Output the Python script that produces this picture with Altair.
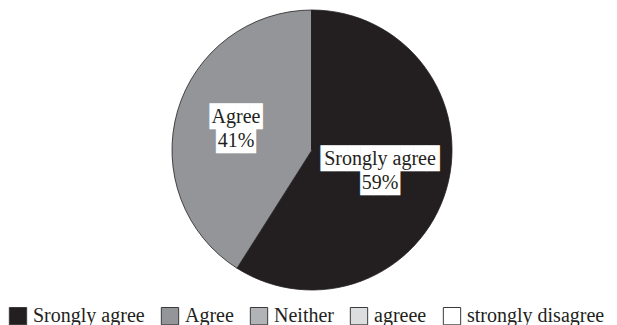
import altair as alt
import pandas as pd

categories = ["Srongly agree", "Agree", "Neither", "agreee", "strongly disagree"]
values = [59, 41, 0, 0, 0]
colors = ["#231f20", "#939598", "#b1b3b6", "#dcdddf", "#ffffff"]

df = pd.DataFrame({
    "category": categories,
    "value": values,
    "order": list(range(len(categories))),
})
df["pct"] = df["value"].astype(str) + "%"
df["box1"] = ["█" * 9, "█" * 4, "", "", ""]
df["box2"] = ["█" * 3, "█" * 3, "", "", ""]

color_scale = alt.Scale(domain=categories, range=colors)

base = alt.Chart(df).encode(
    theta=alt.Theta("value:Q", stack=True),
    order=alt.Order("order:Q"),
    x=alt.value(304),
    y=alt.value(140),
)

pie = base.mark_arc(outerRadius=140, stroke="#231f20", strokeWidth=0.8).encode(
    color=alt.Color(
        "category:N",
        scale=color_scale,
        sort=categories,
        legend=alt.Legend(
            title=None,
            orient="none",
            legendX=0,
            legendY=296,
            direction="horizontal",
            symbolType="square",
            symbolSize=300,
            symbolStrokeColor="#3a3a3a",
            symbolStrokeWidth=1,
            symbolOpacity=1,
            labelFont="Liberation Serif",
            labelFontSize=20,
            labelColor="#231f20",
            labelOffset=5,
            columnPadding=14,
            symbolOffset=0,
        ),
    ),
)

labeled = base.transform_filter("datum.value > 0")

box_style = dict(radius=75, dx=-4, font="DejaVu Sans Mono", fontSize=22, color="white", baseline="middle")
box1 = labeled.mark_text(dy=-12, **box_style).encode(text="box1:N")
box2 = labeled.mark_text(dy=12, **box_style).encode(text="box2:N")

txt_style = dict(radius=75, dx=-4, font="Liberation Serif", fontSize=20, color="#231f20", baseline="middle")
t1 = labeled.mark_text(dy=-12, **txt_style).encode(text="category:N")
t2 = labeled.mark_text(dy=12, **txt_style).encode(text="pct:N")

chart = alt.layer(pie, box1, box2, t1, t2).properties(
    width=600, height=280, padding=0
).configure_view(stroke=None)

chart.save("out.html", embed_options={"renderer": "svg", "actions": False})
